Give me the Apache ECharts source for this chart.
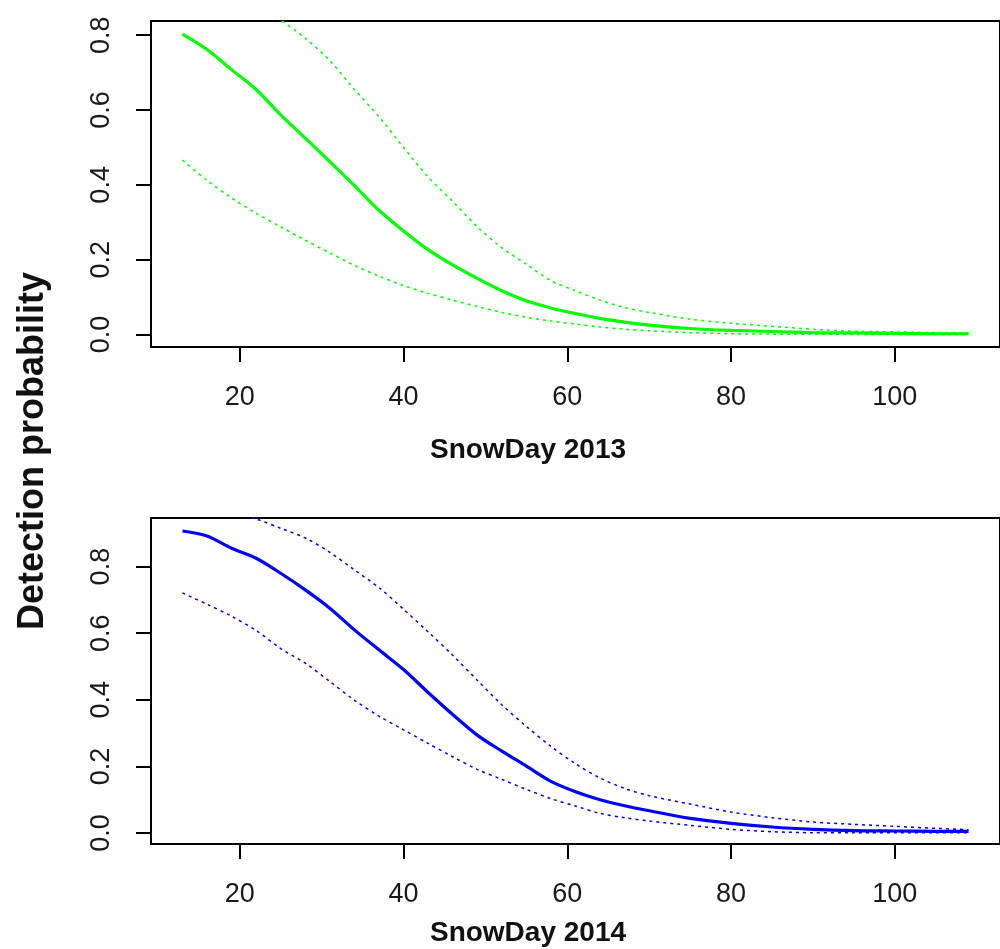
<!DOCTYPE html>
<html>
<head>
<meta charset="utf-8">
<script src="https://cdn.jsdelivr.net/npm/echarts@6/dist/echarts.min.js"></script>
<style>
  html, body { margin: 0; padding: 0; background: #fff; }
  #myCharts { width: 1000px; height: 949px; }
</style>
</head>
<body>
<div id="myCharts"></div>
<script>
// snow day values shared by all curves
var snowDay = [13, 16, 19, 22, 25, 28, 31, 34, 37, 40, 43, 46, 49, 52, 55, 58, 61, 64, 67, 70, 75, 80, 85, 90, 95, 100, 105, 109]

// 2013 (green)
var mean2013 = [0.803, 0.762, 0.708, 0.655, 0.587, 0.525, 0.462, 0.398, 0.332, 0.277, 0.227, 0.186, 0.150, 0.117, 0.090, 0.071, 0.056, 0.043, 0.033, 0.025, 0.016, 0.011, 0.008, 0.005, 0.004, 0.003, 0.002, 0.002]
var upper2013 = [0.965, 0.950, 0.925, 0.890, 0.841, 0.792, 0.732, 0.655, 0.582, 0.500, 0.421, 0.356, 0.288, 0.232, 0.188, 0.144, 0.117, 0.092, 0.072, 0.059, 0.041, 0.030, 0.022, 0.014, 0.009, 0.007, 0.005, 0.004]
var lower2013 = [0.466, 0.412, 0.365, 0.324, 0.288, 0.252, 0.218, 0.185, 0.156, 0.131, 0.110, 0.092, 0.075, 0.059, 0.046, 0.036, 0.028, 0.020, 0.014, 0.010, 0.005, 0.002, 0.001, 0.0005, 0.0003, 0.0002, 0.0001, 0.0001]

// 2014 (blue)
var mean2014 = [0.907, 0.892, 0.855, 0.825, 0.780, 0.730, 0.675, 0.610, 0.550, 0.491, 0.422, 0.356, 0.294, 0.246, 0.201, 0.155, 0.124, 0.100, 0.082, 0.067, 0.044, 0.029, 0.018, 0.011, 0.007, 0.006, 0.005, 0.005]
var upper2014 = [0.985, 0.975, 0.962, 0.943, 0.915, 0.886, 0.843, 0.790, 0.737, 0.672, 0.604, 0.534, 0.459, 0.385, 0.320, 0.260, 0.208, 0.165, 0.134, 0.112, 0.087, 0.063, 0.046, 0.033, 0.026, 0.020, 0.014, 0.010]
var lower2014 = [0.721, 0.687, 0.651, 0.608, 0.554, 0.510, 0.455, 0.399, 0.351, 0.310, 0.269, 0.229, 0.191, 0.161, 0.131, 0.103, 0.081, 0.059, 0.046, 0.036, 0.023, 0.011, 0.004, 0.001, 0.001, 0.0005, 0.0005, 0.0005]

// tick labels
var xTicks = [20, 40, 60, 80, 100]
var yTicks = [0, 0.2, 0.4, 0.6, 0.8]

var FONT = '"Liberation Sans", Arial, sans-serif'

function pairs (ys) {
  return snowDay.map(function (x, i) { return [x, ys[i]] })
}

function xAxisCfg (gi) {
  return {
    type: 'value',
    gridIndex: gi,
    position: 'bottom',
    min: 9.16,
    max: 112.84,
    axisLine: { show: true, onZero: false, lineStyle: { color: '#000', width: 2 } },
    splitLine: { show: false },
    axisTick: { show: true, inside: false, length: 15, customValues: xTicks, lineStyle: { color: '#000', width: 2 } },
    axisLabel: { customValues: xTicks, fontSize: 27, color: '#1a1a1a', margin: 37, fontFamily: FONT }
  }
}

function yAxisCfg (gi, min, max) {
  return {
    type: 'value',
    gridIndex: gi,
    min: min,
    max: max,
    axisLine: { show: true, onZero: false, lineStyle: { color: '#000', width: 2 } },
    splitLine: { show: false },
    axisTick: { show: true, inside: false, length: 15, customValues: yTicks, lineStyle: { color: '#000', width: 2 } },
    axisLabel: {
      customValues: yTicks,
      rotate: 90,
      fontSize: 27,
      color: '#1a1a1a',
      margin: 36,
      fontFamily: FONT,
      formatter: function (v) { return v.toFixed(1) }
    }
  }
}

function lineSeries (gi, ys, color, dotted) {
  return {
    type: 'line',
    xAxisIndex: gi,
    yAxisIndex: gi,
    data: pairs(ys),
    showSymbol: false,
    smooth: 0.3,
    clip: true,
    lineStyle: dotted
      ? { color: color, width: 1.5, type: [3, 4] }
      : { color: color, width: 3.2 }
  }
}

var myCharts = echarts.init(document.getElementById('myCharts'))

var option = {
  animation: false,
  backgroundColor: '#fff',
  grid: [
    { left: 151, top: 21, width: 858, height: 326, show: true, borderColor: '#000', borderWidth: 2, backgroundColor: 'transparent' },
    { left: 151, top: 518, width: 858, height: 326, show: true, borderColor: '#000', borderWidth: 2, backgroundColor: 'transparent' }
  ],
  xAxis: [xAxisCfg(0), xAxisCfg(1)],
  yAxis: [yAxisCfg(0, -0.0334, 0.838), yAxisCfg(1, -0.033, 0.946)],
  series: [
    lineSeries(0, upper2013, '#00ff00', true),
    lineSeries(0, lower2013, '#00ff00', true),
    lineSeries(0, mean2013, '#00ff00', false),
    lineSeries(1, upper2014, '#0000ff', true),
    lineSeries(1, lower2014, '#0000ff', true),
    lineSeries(1, mean2014, '#0000ff', false)
  ],
  graphic: [
    { type: 'text', x: 528, y: 450, style: { text: 'SnowDay 2013', font: 'bold 28px ' + FONT, fill: '#111', textAlign: 'center', textVerticalAlign: 'middle' } },
    { type: 'text', x: 528, y: 933, style: { text: 'SnowDay 2014', font: 'bold 28px ' + FONT, fill: '#111', textAlign: 'center', textVerticalAlign: 'middle' } },
    { type: 'text', x: 33, y: 451, rotation: Math.PI / 2, style: { text: 'Detection probability', font: 'bold 36px ' + FONT, fill: '#111', textAlign: 'center', textVerticalAlign: 'middle' } }
  ]
}

myCharts.setOption(option)
</script>
</body>
</html>
